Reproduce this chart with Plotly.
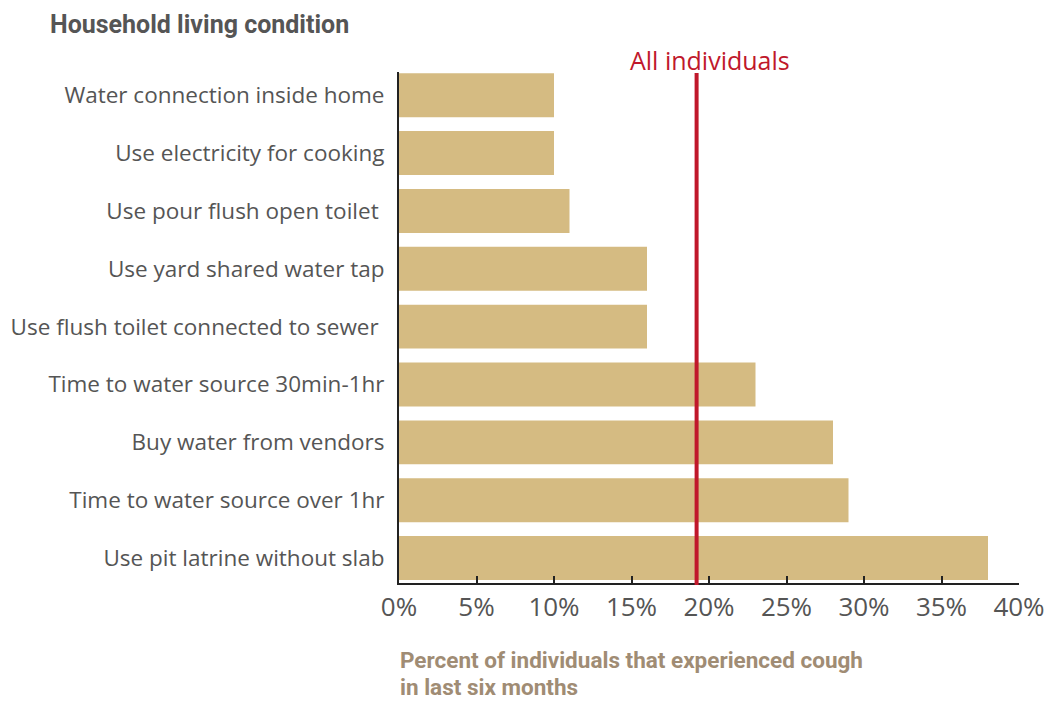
import plotly.graph_objects as go

categories = [
    "Water connection inside home",
    "Use electricity for cooking",
    "Use pour flush open toilet ",
    "Use yard shared water tap",
    "Use flush toilet connected to sewer ",
    "Time to water source 30min-1hr",
    "Buy water from vendors",
    "Time to water source over 1hr",
    "Use pit latrine without slab",
]
values = [10, 10, 11, 16, 16, 23, 28, 29, 38]
all_individuals = 19.2
tick_vals = [0, 5, 10, 15, 20, 25, 30, 35, 40]
tick_text = ["0%", "5%", "10%", "15%", "20%", "25%", "30%", "35%", "40%"]
x_title_lines = ["Percent of individuals that experienced cough", "in last six months"]

FONT = "'Open Sans', Lato, 'DejaVu Sans', sans-serif"
BOLD = "Roboto, 'DejaVu Sans Condensed', sans-serif"

fig = go.Figure()
fig.add_trace(go.Bar(
    y=categories, x=values, orientation="h",
    marker=dict(color="#d5bb82", line=dict(width=0)),
    hoverinfo="x+y",
))

fig.add_shape(type="line", xref="x", yref="paper",
              x0=all_individuals, x1=all_individuals, y0=-0.004, y1=0.998,
              line=dict(color="#c0182b", width=4))

fig.add_annotation(x=all_individuals, xref="x", y=1.0235, yref="paper",
                   text="All individuals", showarrow=False, xshift=13,
                   yanchor="middle", font=dict(family=FONT, size=25, color="#c0182b"))

fig.add_annotation(x=-0.566, xref="paper", y=1.092, yref="paper",
                   text="<b>Household living condition</b>", showarrow=False,
                   xanchor="left", yanchor="middle",
                   font=dict(family=BOLD, size=25, color="#555555"))

for line_text, ypos in zip(x_title_lines, [-0.1507, -0.2035]):
    fig.add_annotation(x=0, xref="paper", y=ypos, yref="paper",
                       text="<b>" + line_text + "</b>",
                       showarrow=False, xanchor="left", yanchor="middle", align="left",
                       borderpad=0,
                       font=dict(family=BOLD, size=22.5, color="#a08c74"))

fig.update_layout(
    width=1053, height=694,
    margin=dict(l=391, r=42, t=64, b=119, autoexpand=False),
    plot_bgcolor="white", paper_bgcolor="white",
    bargap=0.24, showlegend=False,
    font=dict(family=FONT, color="#555555"),
)
fig.update_xaxes(range=[0, 40], tickvals=tick_vals, ticktext=tick_text,
                 showgrid=False, zeroline=False, showline=True, linecolor="#222222",
                 linewidth=2, ticks="inside", ticklen=7, tickwidth=2, tickcolor="#222222",
                 automargin=False,
                 tickfont=dict(family=FONT, size=26, color="#555555"))
fig.update_yaxes(range=[8.43, -0.4], showgrid=False, zeroline=False, showline=True,
                 linecolor="#222222", linewidth=2, ticks="", ticklabelstandoff=8,
                 automargin=False,
                 tickfont=dict(family=FONT, size=22.5, color="#555555"))

fig.write_html("out.html")
